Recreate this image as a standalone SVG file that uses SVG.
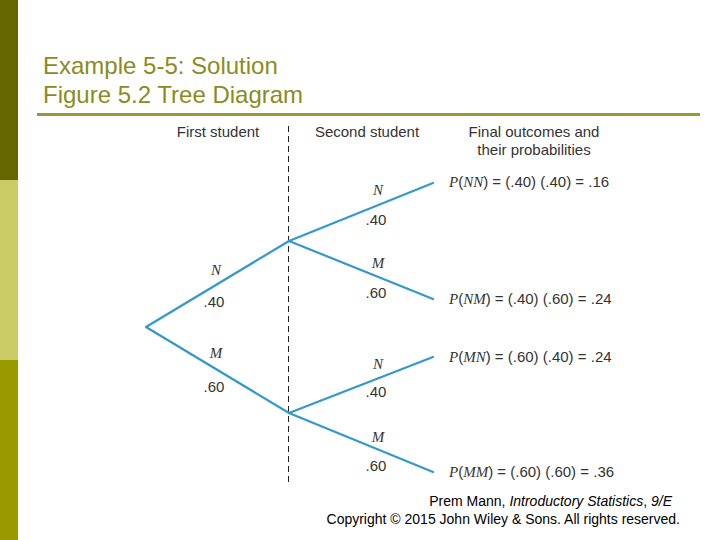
<svg xmlns="http://www.w3.org/2000/svg" width="720" height="540" viewBox="0 0 720 540">
<style>
.title{font-family:"Liberation Sans",Arial,sans-serif;font-size:24px;fill:#8c8c1e}
.hdr{font-family:"Liberation Sans",Arial,sans-serif;font-size:15px;fill:#333}
.var{font-family:"Liberation Serif","Times New Roman",serif;font-style:italic;font-size:15px;fill:#333}
.num{font-family:"Liberation Sans",Arial,sans-serif;font-size:15px;fill:#333}
.out{font-family:"Liberation Sans",Arial,sans-serif;font-size:15px;fill:#333}
.out tspan.i{font-family:"Liberation Serif","Times New Roman",serif;font-style:italic}
.foot{font-family:"Liberation Sans",Arial,sans-serif;font-size:14px;fill:#000}
.br{stroke:#3399cc;stroke-width:2.2;fill:none;stroke-linecap:round;stroke-linejoin:round}
</style>
<rect width="720" height="540" fill="#fff"/>
<g id="sidebar">
<rect x="0" y="0" width="18" height="180" fill="#666600"/>
<rect x="0" y="180" width="18" height="180" fill="#cccc66"/>
<rect x="0" y="360" width="18" height="180" fill="#999900"/>
</g>
<g id="title">
<text class="title" x="43" y="74">Example 5-5: Solution</text>
<text class="title" x="43" y="103">Figure 5.2 Tree Diagram</text>
<rect x="37" y="113" width="663" height="3" fill="#999933"/>
</g>
<g id="headers">
<text class="hdr" x="218" y="137" text-anchor="middle">First student</text>
<text class="hdr" x="367" y="137" text-anchor="middle">Second student</text>
<text class="hdr" x="534" y="137" text-anchor="middle">Final outcomes and</text>
<text class="hdr" x="534" y="155" text-anchor="middle">their probabilities</text>
</g>
<g id="divider">
<line x1="288.5" y1="126" x2="288.5" y2="482" stroke="#222" stroke-width="1" stroke-dasharray="6,4"/>
</g>
<g id="connectors">
<polyline class="br" points="289,241 146,327 289,413"/>
<line class="br" x1="289" y1="241" x2="433" y2="183"/>
<line class="br" x1="289" y1="241" x2="433" y2="299"/>
<line class="br" x1="289" y1="413" x2="433" y2="357"/>
<line class="br" x1="289" y1="413" x2="433" y2="472"/>
</g>
<g id="labels">
<text class="var" x="216" y="275" text-anchor="middle">N</text>
<text class="num" x="214" y="307" text-anchor="middle">.40</text>
<text class="var" x="216" y="358" text-anchor="middle">M</text>
<text class="num" x="214" y="392" text-anchor="middle">.60</text>
<text class="var" x="378" y="195" text-anchor="middle">N</text>
<text class="num" x="376" y="225" text-anchor="middle">.40</text>
<text class="var" x="378" y="268" text-anchor="middle">M</text>
<text class="num" x="376" y="298" text-anchor="middle">.60</text>
<text class="var" x="378" y="369" text-anchor="middle">N</text>
<text class="num" x="376" y="397" text-anchor="middle">.40</text>
<text class="var" x="378" y="442" text-anchor="middle">M</text>
<text class="num" x="376" y="471" text-anchor="middle">.60</text>
</g>
<g id="outcome-NN"><text class="out" x="449" y="187"><tspan class="i">P</tspan>(<tspan class="i">NN</tspan>) = (.40) (.40) = .16</text></g>
<g id="outcome-NM"><text class="out" x="449" y="304"><tspan class="i">P</tspan>(<tspan class="i">NM</tspan>) = (.40) (.60) = .24</text></g>
<g id="outcome-MN"><text class="out" x="449" y="362"><tspan class="i">P</tspan>(<tspan class="i">MN</tspan>) = (.60) (.40) = .24</text></g>
<g id="outcome-MM"><text class="out" x="449" y="477"><tspan class="i">P</tspan>(<tspan class="i">MM</tspan>) = (.60) (.60) = .36</text></g>
<g id="footer">
<text class="foot" x="672" y="506" text-anchor="end">Prem Mann, <tspan font-style="italic">Introductory Statistics</tspan>, <tspan font-style="italic">9/E</tspan></text>
<text class="foot" x="680" y="524" text-anchor="end">Copyright © 2015 John Wiley &amp; Sons. All rights reserved.</text>
</g>
</svg>
